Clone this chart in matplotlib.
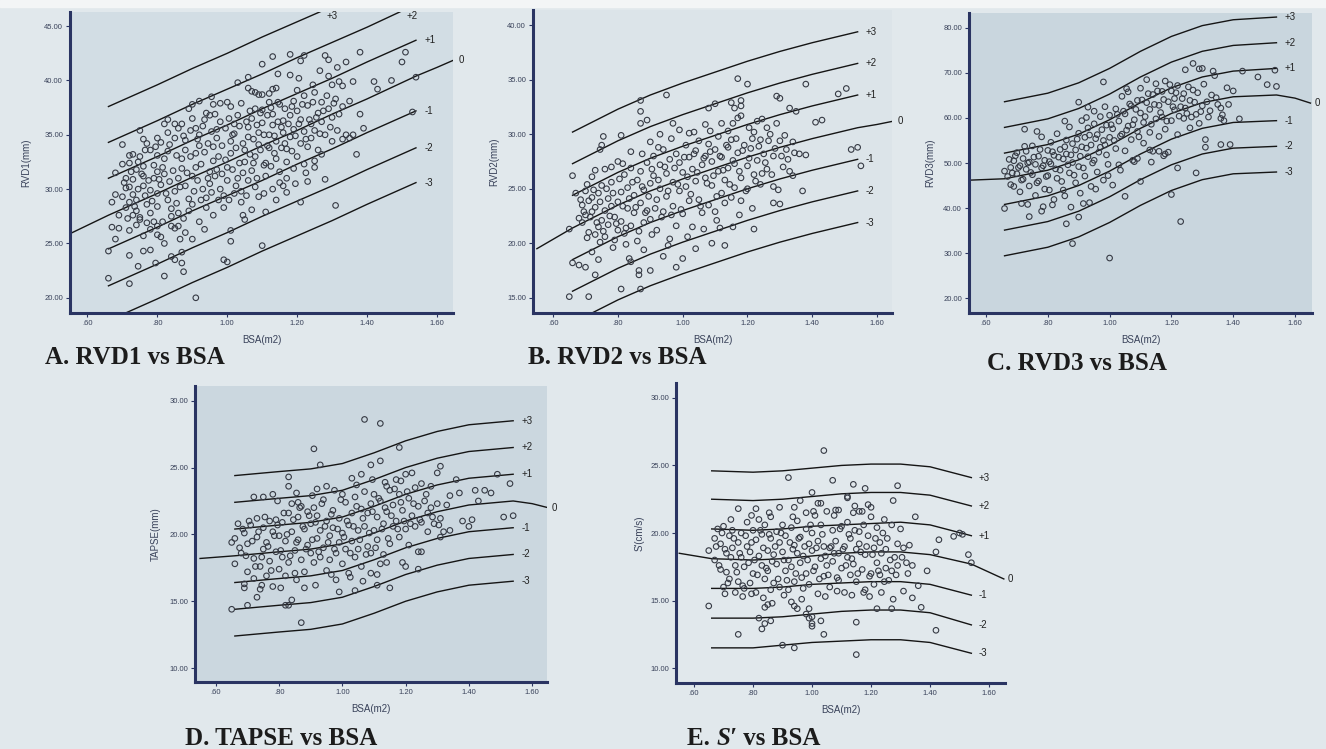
import numpy as np
import matplotlib
matplotlib.use('Agg')
import matplotlib.pyplot as plt
from matplotlib.patches import Rectangle

plt.rcParams['font.family'] = ['Liberation Sans', 'DejaVu Sans']

# ------------------------------------------------------------------
# z-score curves: BSA nodes shared by the +/-1..3 curves and the mean (0)
# ------------------------------------------------------------------
z_nodes = [0.66, 0.80, 0.90, 1.00, 1.10, 1.20, 1.30, 1.40, 1.54]
zero_nodes = [0.55, 0.66, 0.80, 0.90, 1.00, 1.10, 1.20, 1.30, 1.40, 1.54, 1.60, 1.65]
z_names = ['+3', '+2', '+1', '-1', '-2', '-3']

# ---- A. RVD1 ----
rvd1_mean = [25.9, 27.6, 29.6, 31.1, 32.5, 34.0, 35.4, 36.9, 38.3, 40.4, 41.2, 41.9]
rvd1_sd = [
    [37.6, 39.6, 41.1, 42.5, 44.0, 45.4, 46.8, 48.3, 50.3],
    [34.3, 36.3, 37.8, 39.2, 40.6, 42.1, 43.5, 44.9, 47.0],
    [31.0, 33.0, 34.5, 35.9, 37.4, 38.8, 40.2, 41.7, 43.7],
    [24.5, 26.5, 28.0, 29.4, 30.8, 32.3, 33.7, 35.2, 37.2],
    [21.1, 23.1, 24.6, 26.0, 27.5, 28.9, 30.3, 31.8, 33.8],
    [17.9, 19.9, 21.4, 22.8, 24.3, 25.7, 27.1, 28.6, 30.6],
]
rvd1_pts = [
    (0.66, 21.8), (0.72, 21.3), (0.91, 20.0), (0.66, 24.3), (0.68, 25.4), (0.72, 23.9), (0.67, 26.5),
    (0.69, 26.4), (0.69, 27.6), (0.67, 28.8), (0.68, 29.5), (0.68, 31.5), (0.70, 32.3), (0.70, 34.1),
    (0.72, 32.4), (0.72, 33.1), (0.70, 29.3), (0.71, 30.1), (0.72, 28.8), (0.73, 30.9), (0.74, 26.7),
    (0.75, 27.4), (0.76, 25.7), (0.76, 24.3), (0.78, 24.4), (0.75, 35.4), (0.76, 34.6), (0.77, 34.2),
    (0.80, 25.8), (0.81, 25.6), (0.80, 26.6), (0.82, 22.0), (0.84, 23.8), (0.85, 23.5), (0.87, 24.2),
    (0.87, 23.2), (0.875, 22.4), (0.90, 25.4), (0.99, 23.5), (1.00, 23.3), (1.01, 25.2), (1.01, 26.2),
    (1.05, 27.2), (1.10, 24.8), (1.11, 27.9), (1.14, 29.0), (1.15, 30.6), (1.16, 30.3), (1.17, 29.7),
    (1.21, 28.8), (1.23, 30.7), (1.28, 30.9), (1.31, 28.5), (1.37, 33.2), (1.39, 35.6), (1.36, 35.0),
    (1.35, 34.7), (1.33, 34.6), (1.34, 35.0), (1.30, 34.4), (1.27, 33.2), (1.25, 32.0), (1.25, 32.6),
    (1.38, 36.9), (1.35, 38.1), (1.36, 39.9), (1.33, 39.5), (1.32, 39.9), (1.29, 40.4), (1.30, 39.6),
    (1.43, 39.2), (1.42, 39.9), (1.47, 40.0), (1.50, 41.7), (1.51, 42.6), (1.54, 40.3), (1.53, 37.1),
    (1.38, 42.6), (1.34, 41.7), (1.29, 41.9), (1.28, 42.3), (1.22, 42.3), (1.21, 41.8), (1.18, 42.4),
    (1.13, 42.2), (1.10, 41.5), (1.03, 39.8), (1.06, 40.3), (1.18, 40.5), (1.20, 39.1), (1.06, 39.3),
    (1.07, 39.0), (1.08, 38.9), (1.09, 38.7), (1.10, 38.7), (1.12, 38.8), (1.13, 39.2), (1.14, 39.3),
    (0.89, 37.4), (0.90, 37.8), (0.92, 38.1), (0.955, 38.5), (0.96, 37.8), (0.98, 37.9), (1.00, 38.0),
    (1.01, 37.6), (0.83, 36.4), (0.85, 36.0), (0.73, 33.2),
    (0.71, 31.0), (0.72, 30.2), (0.73, 29.5), (0.74, 31.8), (0.745, 32.5), (0.75, 33.0), (0.76, 30.3),
    (0.765, 29.4), (0.77, 28.6), (0.78, 27.8), (0.78, 29.9), (0.79, 31.0), (0.79, 32.2), (0.80, 33.1),
    (0.80, 31.6), (0.76, 32.1), (0.74, 28.0), (0.75, 27.2), (0.73, 27.6), (0.72, 26.2), (0.77, 26.9),
    (0.78, 26.3), (0.79, 27.0), (0.80, 28.4), (0.80, 29.6), (0.81, 30.4), (0.82, 31.4), (0.82, 32.8),
    (0.83, 33.5), (0.83, 29.0), (0.84, 28.2), (0.84, 27.5), (0.85, 26.4), (0.86, 26.6), (0.86, 27.8),
    (0.85, 29.8), (0.86, 31.0), (0.87, 31.9), (0.87, 32.8), (0.88, 33.6), (0.88, 34.5), (0.81, 34.3),
    (0.83, 35.2), (0.85, 34.7), (0.86, 35.6), (0.87, 36.0), (0.88, 30.3), (0.89, 29.1), (0.89, 28.0),
    (0.90, 28.6), (0.90, 31.2), (0.91, 32.0), (0.91, 33.3), (0.92, 34.0), (0.92, 35.0), (0.93, 35.8),
    (0.93, 30.0), (0.94, 29.2), (0.94, 28.3), (0.95, 30.5), (0.95, 31.6), (0.96, 32.6), (0.96, 33.9),
    (0.97, 34.7), (0.97, 35.5), (0.98, 36.2), (0.98, 30.0), (0.99, 29.4), (0.99, 28.3), (1.00, 30.8),
    (1.00, 32.0), (1.01, 33.3), (1.01, 34.4), (1.02, 35.1), (1.02, 36.0), (1.03, 36.8), (1.03, 31.0),
    (1.04, 29.8), (1.04, 28.8), (1.05, 32.5), (1.05, 33.6), (1.06, 34.8), (1.06, 35.7), (1.07, 36.5),
    (1.07, 31.7), (1.08, 30.2), (1.08, 33.0), (1.09, 34.1), (1.09, 35.2), (1.10, 36.1), (1.10, 37.3),
    (1.11, 32.4), (1.11, 31.2), (1.12, 33.8), (1.12, 35.0), (1.13, 35.9), (1.13, 36.9), (1.14, 34.4),
    (1.14, 32.8), (1.15, 31.6), (1.15, 37.8), (1.16, 36.3), (1.16, 35.2), (1.17, 33.7), (1.17, 32.5),
    (1.18, 34.8), (1.18, 36.8), (1.19, 38.1), (1.19, 35.5), (1.20, 33.0), (1.20, 37.2), (1.21, 34.2),
    (1.21, 36.4), (1.22, 38.6), (1.22, 35.3), (1.23, 33.9), (1.23, 37.7), (1.24, 36.0), (1.24, 34.7),
    (1.25, 38.9), (1.25, 35.4), (1.26, 37.0), (1.26, 33.6), (1.27, 36.2), (1.27, 38.0), (1.28, 35.0),
    (1.29, 37.4), (1.30, 36.6), (1.31, 38.3), (1.32, 36.9), (1.33, 37.6), (1.12, 38.0), (1.08, 37.4),
    (1.04, 37.9), (0.95, 36.8), (0.94, 37.0), (0.90, 36.5), (0.91, 35.6), (0.97, 31.8), (1.02, 29.6),
    (1.06, 30.8), (1.09, 29.3), (1.13, 30.0), (1.17, 31.0), (1.19, 31.9), (1.22, 32.3), (1.07, 28.1),
    (0.96, 27.6), (0.92, 27.0), (0.88, 26.0), (0.82, 25.0), (0.84, 26.6), (0.71, 28.3), (0.74, 29.0),
    (0.76, 31.2), (0.78, 33.6), (0.80, 34.7), (0.82, 36.0),
    (0.705, 30.6), (0.715, 27.3), (0.725, 31.6), (0.735, 28.4), (0.745, 30.0), (0.755, 31.4),
    (0.765, 33.6), (0.775, 30.8), (0.785, 28.9), (0.795, 33.9), (0.805, 30.9), (0.815, 32.0),
    (0.815, 27.0), (0.825, 29.6), (0.835, 30.7), (0.835, 34.1), (0.845, 31.7), (0.855, 33.1),
    (0.855, 28.7), (0.865, 30.2), (0.875, 34.9), (0.875, 27.3), (0.885, 31.5), (0.895, 33.0),
    (0.895, 35.4), (0.905, 29.8), (0.915, 30.8), (0.915, 34.6), (0.925, 32.3), (0.925, 29.0),
    (0.935, 33.4), (0.935, 36.4), (0.945, 31.0), (0.945, 34.2), (0.955, 29.7), (0.955, 35.3),
    (0.965, 31.2), (0.965, 36.9), (0.975, 33.0), (0.975, 29.0), (0.985, 34.0), (0.985, 31.4),
    (0.995, 35.6), (0.995, 32.7), (1.005, 29.0), (1.005, 36.5), (1.015, 31.8), (1.015, 35.0),
    (1.025, 33.8), (1.025, 30.3), (1.035, 32.4), (1.035, 35.8), (1.045, 34.2), (1.045, 31.5),
    (1.055, 36.2), (1.055, 29.4), (1.065, 33.2), (1.065, 37.2), (1.075, 34.6), (1.075, 32.4),
    (1.085, 35.9), (1.085, 31.0), (1.095, 33.6), (1.095, 37.0), (1.105, 35.0), (1.105, 32.2),
    (1.115, 36.8), (1.115, 34.0), (1.125, 32.1), (1.125, 37.5), (1.135, 34.9), (1.135, 33.3),
    (1.145, 36.2), (1.145, 38.0), (1.155, 33.8), (1.155, 35.7), (1.165, 37.4), (1.165, 34.2),
    (1.175, 36.0), (1.185, 33.5), (1.185, 37.6), (1.195, 34.9), (1.205, 36.0), (1.215, 37.8),
    (1.225, 34.6), (1.235, 36.4), (1.245, 38.0), (1.255, 36.6), (1.265, 35.1), (1.275, 37.2),
    (1.285, 38.6), (1.295, 35.7), (1.305, 37.9), (1.315, 35.4), (1.205, 40.2), (1.145, 40.6),
    (1.245, 39.6), (1.265, 40.9), (1.315, 41.2), (1.225, 31.5), (1.195, 30.5), (1.105, 29.6),
    (1.045, 27.6), (0.935, 26.3), (0.865, 25.4), (0.795, 23.2), (0.745, 22.9),
]

# ---- B. RVD2 ----
rvd2_mean = [19.5, 21.4, 23.5, 24.8, 25.9, 26.9, 27.9, 28.8, 29.6, 30.6, 30.9, 31.2]
rvd2_sd = [
    [30.2, 32.3, 33.6, 34.7, 35.7, 36.7, 37.6, 38.4, 39.4],
    [27.3, 29.4, 30.7, 31.8, 32.8, 33.8, 34.7, 35.5, 36.5],
    [24.4, 26.5, 27.8, 28.9, 29.9, 30.9, 31.8, 32.6, 33.6],
    [18.5, 20.6, 21.9, 23.0, 24.0, 25.0, 25.9, 26.7, 27.7],
    [15.6, 17.7, 19.0, 20.1, 21.1, 22.1, 23.0, 23.8, 24.8],
    [12.7, 14.8, 16.1, 17.2, 18.2, 19.2, 20.1, 20.9, 21.9],
]
rvd2_pts = [
    (0.65, 15.1), (0.71, 15.1), (0.66, 18.2), (0.68, 18.0), (0.70, 17.8), (0.73, 17.1), (0.72, 19.2),
    (0.74, 18.5), (0.81, 15.8), (0.87, 15.8), (0.835, 18.6), (0.84, 18.3), (0.865, 17.5), (0.865, 17.1),
    (0.90, 17.5), (0.88, 19.4), (0.94, 18.8), (0.98, 17.8), (1.00, 18.6), (1.04, 19.5), (1.09, 20.0),
    (1.13, 19.8), (1.155, 21.5), (1.22, 21.3), (1.105, 22.1), (0.65, 21.3), (0.66, 26.2), (0.73, 26.7),
    (0.755, 29.8), (0.75, 29.0), (0.745, 28.6), (0.81, 29.9), (0.87, 33.1), (0.87, 32.1), (0.89, 31.3),
    (0.87, 31.0), (0.95, 33.6), (0.97, 31.0), (1.17, 35.1), (1.20, 34.6), (1.15, 32.9), (1.16, 32.4),
    (1.18, 32.6), (1.18, 31.7), (1.17, 31.5), (1.18, 33.1), (1.29, 33.5), (1.30, 33.3), (1.33, 32.4),
    (1.35, 32.1), (1.38, 34.6), (1.41, 31.1), (1.43, 31.3), (1.48, 33.7), (1.505, 34.2), (1.52, 28.6),
    (1.54, 28.8), (1.55, 27.1), (1.36, 28.2), (1.38, 28.1), (1.37, 24.8), (1.34, 26.2), (1.28, 23.7),
    (1.30, 23.6), (1.07, 30.9), (1.08, 32.4), (1.10, 32.8),
    (0.67, 24.6), (0.68, 22.3), (0.69, 23.5), (0.69, 21.9), (0.70, 24.8), (0.70, 22.6), (0.71, 23.9),
    (0.71, 21.0), (0.72, 24.2), (0.72, 22.9), (0.73, 23.3), (0.73, 20.8), (0.74, 21.5), (0.74, 24.6),
    (0.75, 25.3), (0.75, 22.1), (0.76, 23.0), (0.76, 20.6), (0.77, 21.7), (0.77, 24.1), (0.78, 23.4),
    (0.78, 25.6), (0.79, 22.4), (0.79, 20.3), (0.80, 21.2), (0.80, 23.8), (0.81, 24.7), (0.81, 22.0),
    (0.82, 26.3), (0.82, 20.9), (0.83, 23.2), (0.83, 25.1), (0.84, 21.6), (0.84, 26.9), (0.85, 24.4),
    (0.85, 22.8), (0.86, 25.8), (0.86, 20.2), (0.87, 23.7), (0.87, 26.6), (0.88, 24.9), (0.88, 21.9),
    (0.89, 27.4), (0.89, 23.0), (0.90, 25.5), (0.90, 22.2), (0.91, 26.2), (0.91, 28.0), (0.92, 24.0),
    (0.92, 21.2), (0.93, 27.2), (0.93, 25.0), (0.94, 22.9), (0.94, 28.6), (0.95, 26.4), (0.95, 24.3),
    (0.96, 20.4), (0.96, 27.7), (0.97, 25.6), (0.97, 23.4), (0.98, 28.2), (0.98, 21.6), (0.99, 27.4),
    (0.99, 24.8), (1.00, 26.5), (1.00, 22.7), (1.01, 29.0), (1.01, 25.2), (1.02, 27.9), (1.02, 23.9),
    (1.03, 26.8), (1.03, 21.5), (1.04, 28.5), (1.04, 25.7), (1.05, 29.4), (1.05, 24.0), (1.06, 27.2),
    (1.06, 22.8), (1.07, 28.0), (1.07, 26.0), (1.08, 29.1), (1.08, 23.5), (1.09, 27.5), (1.09, 25.3),
    (1.10, 28.6), (1.10, 22.9), (1.11, 26.6), (1.11, 29.8), (1.12, 24.6), (1.12, 27.9), (1.13, 25.8),
    (1.13, 23.7), (1.14, 28.8), (1.14, 26.9), (1.15, 24.2), (1.15, 29.5), (1.16, 27.3), (1.16, 25.1),
    (1.17, 28.3), (1.18, 26.0), (1.18, 23.9), (1.19, 29.0), (1.20, 27.1), (1.20, 25.0), (1.21, 28.7),
    (1.22, 26.3), (1.22, 30.2), (1.23, 27.6), (1.24, 25.4), (1.24, 29.5), (1.25, 28.2), (1.26, 26.8),
    (1.27, 30.0), (1.28, 28.0), (1.28, 25.2), (1.30, 29.4), (1.31, 27.0), (1.32, 28.6), (1.33, 26.6),
    (1.34, 29.3), (1.29, 31.0), (1.26, 30.6), (1.23, 31.2), (1.14, 30.3), (1.12, 31.0), (1.02, 30.1),
    (0.99, 30.4), (0.93, 30.0), (0.90, 29.3), (0.84, 28.4), (0.80, 27.5), (0.78, 27.0), (0.76, 26.8),
    (0.72, 26.1),
    (0.685, 24.0), (0.695, 22.9), (0.705, 25.4), (0.715, 22.4), (0.725, 24.9), (0.735, 21.9),
    (0.745, 23.8), (0.755, 21.1), (0.765, 25.0), (0.775, 22.5), (0.785, 24.6), (0.795, 21.8),
    (0.805, 25.9), (0.815, 23.4), (0.825, 21.4), (0.835, 24.1), (0.845, 25.6), (0.855, 23.3),
    (0.865, 21.1), (0.875, 25.2), (0.885, 22.8), (0.895, 24.3), (0.905, 26.8), (0.915, 23.2),
    (0.925, 25.8), (0.935, 22.4), (0.945, 27.0), (0.955, 24.8), (0.965, 22.6), (0.975, 26.9),
    (0.985, 25.4), (0.995, 23.1), (1.005, 27.9), (1.015, 26.1), (1.025, 24.5), (1.035, 28.2),
    (1.045, 26.5), (1.055, 23.4), (1.065, 27.8), (1.075, 25.5), (1.085, 28.4), (1.095, 26.2),
    (1.105, 24.3), (1.115, 28.0), (1.125, 26.7), (1.135, 29.0), (1.145, 25.4), (1.155, 27.6),
    (1.165, 29.6), (1.175, 26.6), (1.185, 28.5), (1.195, 24.8), (1.205, 27.8), (1.215, 29.6),
    (1.225, 25.7), (1.235, 28.9), (1.245, 26.4), (1.255, 27.4), (1.265, 29.4), (1.275, 26.3),
    (1.285, 28.7), (1.295, 24.9), (1.305, 28.0), (1.315, 29.9), (1.325, 27.7), (1.345, 28.3),
    (0.705, 20.5), (0.745, 20.1), (0.785, 19.6), (0.825, 19.9), (0.905, 20.8), (0.955, 19.8),
    (1.015, 20.6), (1.065, 21.3), (1.115, 21.4), (1.175, 22.6), (1.215, 23.2), (0.815, 27.3),
    (0.875, 28.2), (0.925, 28.8), (0.965, 29.6), (1.035, 30.2), (1.085, 30.3), (1.155, 31.0),
    (1.205, 30.6), (1.245, 31.4),
]

# ---- C. RVD3 ----
rvd3_mean = [46.2, 46.5, 48.4, 50.7, 53.9, 57.7, 61.0, 63.4, 64.7, 65.1, 64.4, 63.3]
rvd3_sd = [
    [63.6, 65.5, 67.8, 71.0, 74.8, 78.1, 80.5, 81.8, 82.4],
    [57.9, 59.8, 62.1, 65.3, 69.1, 72.4, 74.8, 76.1, 76.7],
    [52.2, 54.1, 56.4, 59.6, 63.4, 66.7, 69.1, 70.4, 71.0],
    [40.8, 42.7, 45.0, 48.2, 52.0, 55.3, 57.7, 59.0, 59.4],
    [35.1, 37.0, 39.3, 42.5, 46.3, 49.6, 52.0, 53.3, 53.7],
    [29.4, 31.3, 33.6, 36.8, 40.6, 43.9, 46.3, 47.6, 48.0],
]
rvd3_pts = [
    (1.00, 28.9), (0.88, 32.1), (0.86, 36.5), (0.90, 38.0), (1.23, 37.0), (1.20, 43.0), (0.74, 38.1),
    (0.78, 39.3), (0.66, 39.9), (0.68, 45.2), (0.715, 41.0), (0.735, 40.8), (1.05, 42.6), (1.10, 45.9),
    (1.28, 47.8), (1.22, 48.9), (1.36, 54.1), (1.39, 54.1), (1.31, 55.2), (1.31, 53.5), (1.36, 59.9),
    (1.42, 59.8), (1.535, 70.6), (1.48, 69.1), (1.51, 67.4), (1.54, 67.0), (1.43, 70.4), (1.38, 66.7),
    (1.36, 62.2), (1.335, 70.4), (1.34, 69.4), (1.27, 72.1), (1.245, 70.7), (1.29, 70.9), (1.30, 71.0),
    (0.98, 68.0), (0.90, 63.5), (0.93, 62.4), (0.95, 61.5),
    (0.66, 48.2), (0.67, 47.0), (0.68, 49.0), (0.69, 50.5), (0.69, 44.8), (0.70, 47.6), (0.70, 52.3),
    (0.71, 49.4), (0.71, 43.6), (0.72, 51.0), (0.72, 46.4), (0.73, 48.6), (0.73, 52.6), (0.74, 50.2),
    (0.74, 44.9), (0.75, 47.4), (0.75, 53.8), (0.76, 49.7), (0.76, 42.8), (0.77, 51.5), (0.77, 46.0),
    (0.78, 48.9), (0.78, 55.8), (0.79, 50.6), (0.79, 44.2), (0.80, 52.8), (0.80, 47.2), (0.81, 54.6),
    (0.81, 49.8), (0.82, 41.9), (0.82, 51.7), (0.83, 46.6), (0.83, 56.5), (0.84, 53.0), (0.84, 48.4),
    (0.85, 50.9), (0.85, 44.0), (0.86, 55.1), (0.86, 52.0), (0.87, 47.8), (0.87, 58.0), (0.88, 50.1),
    (0.88, 54.3), (0.89, 45.6), (0.89, 52.9), (0.90, 56.6), (0.90, 49.2), (0.91, 59.4), (0.91, 53.6),
    (0.92, 47.1), (0.92, 55.7), (0.93, 51.4), (0.93, 57.8), (0.94, 44.8), (0.94, 54.0), (0.95, 58.7),
    (0.95, 50.6), (0.96, 56.3), (0.96, 48.0), (0.97, 60.3), (0.97, 53.5), (0.98, 55.0), (0.98, 46.2),
    (0.99, 58.4), (0.99, 51.8), (1.00, 60.6), (1.00, 55.7), (1.01, 45.1), (1.01, 57.6), (1.02, 53.2),
    (1.02, 62.0), (1.03, 59.3), (1.03, 49.6), (1.04, 56.4), (1.04, 64.8), (1.05, 60.9), (1.05, 52.7),
    (1.06, 58.2), (1.06, 65.8), (1.07, 55.2), (1.07, 62.7), (1.08, 59.6), (1.08, 50.3), (1.09, 63.9),
    (1.09, 57.0), (1.10, 61.1), (1.10, 66.6), (1.11, 54.4), (1.11, 59.0), (1.12, 63.4), (1.12, 68.5),
    (1.13, 56.8), (1.13, 61.9), (1.14, 65.2), (1.14, 52.6), (1.15, 59.8), (1.15, 67.6), (1.16, 62.8),
    (1.16, 55.9), (1.17, 65.9), (1.17, 60.2), (1.18, 68.2), (1.18, 57.5), (1.19, 63.6), (1.19, 52.4),
    (1.20, 66.0), (1.20, 59.4), (1.21, 61.8), (1.21, 64.3), (1.22, 56.3), (1.22, 67.2), (1.23, 62.5),
    (1.24, 59.9), (1.24, 65.4), (1.25, 61.0), (1.26, 57.8), (1.26, 63.9), (1.27, 66.2), (1.28, 60.8),
    (1.29, 58.8), (1.30, 62.7), (1.32, 60.2), (1.33, 65.1), (1.35, 63.0), (1.37, 59.4), (1.40, 66.0),
    (1.18, 52.0), (1.16, 52.6), (1.13, 52.9), (1.09, 51.0),
    (0.675, 50.8), (0.685, 47.8), (0.695, 51.6), (0.705, 49.0), (0.715, 46.2), (0.725, 53.7),
    (0.735, 50.0), (0.745, 47.9), (0.755, 51.3), (0.765, 45.6), (0.775, 53.0), (0.785, 49.4),
    (0.795, 47.0), (0.805, 50.3), (0.815, 52.5), (0.825, 48.7), (0.835, 51.3), (0.845, 45.9),
    (0.855, 53.6), (0.865, 49.6), (0.875, 51.8), (0.885, 47.3), (0.895, 55.3), (0.905, 51.5),
    (0.915, 48.9), (0.925, 53.3), (0.935, 56.2), (0.945, 50.0), (0.955, 55.4), (0.965, 52.4),
    (0.975, 57.4), (0.985, 54.0), (0.995, 49.7), (1.005, 58.5), (1.015, 55.0), (1.025, 60.8),
    (1.035, 56.0), (1.045, 61.5), (1.055, 57.3), (1.065, 63.1), (1.075, 58.5), (1.085, 61.9),
    (1.095, 55.8), (1.105, 64.0), (1.115, 60.3), (1.125, 65.4), (1.135, 58.6), (1.145, 63.0),
    (1.155, 66.0), (1.165, 61.2), (1.175, 64.1), (1.185, 59.3), (1.195, 67.4), (1.205, 62.5),
    (1.215, 65.6), (1.225, 60.4), (1.235, 64.3), (1.245, 62.2), (1.255, 66.9), (1.265, 60.2),
    (1.275, 63.5), (1.285, 65.6), (1.295, 61.4), (1.305, 67.5), (1.315, 63.6), (1.325, 61.6),
    (1.345, 64.5), (1.365, 60.7), (1.385, 63.0), (0.805, 44.0), (0.855, 42.7), (0.905, 43.3),
    (0.935, 41.2), (0.955, 44.2), (0.995, 47.2), (1.035, 48.4), (1.075, 50.6), (1.135, 50.2),
    (1.175, 51.6), (0.785, 40.3), (0.815, 40.7), (0.875, 40.2), (0.915, 41.0), (0.725, 57.5),
    (0.765, 57.0), (0.855, 59.3), (0.925, 60.1), (0.985, 62.5), (1.055, 66.5),
]

# ---- D. TAPSE ----
tapse_mean = [18.2, 18.4, 18.7, 18.9, 19.3, 20.1, 21.0, 21.7, 22.2, 22.5, 22.3, 22.0]
tapse_sd = [
    [24.4, 24.7, 24.9, 25.3, 26.1, 27.0, 27.7, 28.2, 28.5],
    [22.4, 22.7, 22.9, 23.3, 24.1, 25.0, 25.7, 26.2, 26.5],
    [20.4, 20.7, 20.9, 21.3, 22.1, 23.0, 23.7, 24.2, 24.5],
    [16.4, 16.7, 16.9, 17.3, 18.1, 19.0, 19.7, 20.2, 20.5],
    [14.4, 14.7, 14.9, 15.3, 16.1, 17.0, 17.7, 18.2, 18.5],
    [12.4, 12.7, 12.9, 13.3, 14.1, 15.0, 15.7, 16.2, 16.5],
]
tapse_pts = [
    (1.07, 28.6), (1.12, 28.3), (0.91, 26.4), (1.18, 26.5), (0.93, 25.2), (1.09, 25.2), (1.12, 25.5),
    (1.31, 25.1), (1.30, 24.6), (1.49, 24.5), (0.83, 24.3), (0.83, 23.6), (0.65, 19.4), (0.66, 19.7),
    (0.66, 17.8), (0.65, 14.4), (0.70, 14.7), (0.82, 14.7), (0.83, 14.7), (0.84, 15.1), (0.87, 13.4),
    (0.88, 16.0), (0.99, 15.7), (1.04, 15.8), (1.11, 16.2), (1.15, 16.0), (1.09, 17.1), (1.11, 17.0),
    (1.14, 17.9), (1.12, 17.8), (1.19, 17.9), (1.20, 17.6), (1.24, 17.4), (1.24, 18.7), (1.25, 18.7),
    (1.51, 21.3), (1.54, 21.4), (1.53, 23.8), (1.47, 23.1), (1.38, 21.0), (1.40, 20.6), (1.41, 21.1),
    (1.42, 23.3), (1.37, 23.1), (1.36, 24.1), (0.69, 16.0), (0.69, 16.3), (0.73, 15.3), (0.74, 15.9),
    (0.72, 22.8), (0.75, 22.8), (0.78, 23.0), (0.86, 22.4), (0.92, 23.4), (0.95, 23.6), (1.00, 23.0),
    (1.03, 24.2), (1.06, 24.5), (1.14, 23.6), (1.17, 24.1), (1.20, 24.5), (1.22, 24.6), (1.25, 23.8),
    (1.28, 23.6), (1.33, 22.2), (1.34, 22.9), (1.32, 20.2), (1.31, 19.8), (1.34, 20.3), (1.43, 22.5),
    (1.45, 23.3),
    (0.67, 20.8), (0.68, 18.6), (0.69, 20.1), (0.70, 19.3), (0.70, 17.2), (0.71, 20.7), (0.72, 18.2),
    (0.72, 16.7), (0.73, 19.8), (0.73, 21.2), (0.74, 17.6), (0.75, 18.9), (0.75, 20.5), (0.76, 16.9),
    (0.76, 19.4), (0.77, 21.0), (0.77, 18.0), (0.78, 20.2), (0.78, 16.1), (0.79, 18.7), (0.79, 21.1),
    (0.80, 17.4), (0.80, 19.9), (0.81, 20.9), (0.81, 18.3), (0.82, 16.9), (0.82, 19.5), (0.83, 21.6),
    (0.83, 17.9), (0.84, 20.2), (0.84, 22.3), (0.85, 18.8), (0.85, 17.1), (0.86, 21.3), (0.86, 19.6),
    (0.87, 18.1), (0.87, 22.1), (0.88, 20.4), (0.88, 17.2), (0.89, 19.2), (0.89, 21.7), (0.90, 18.6),
    (0.90, 20.8), (0.91, 17.9), (0.91, 22.0), (0.92, 19.7), (0.92, 21.4), (0.93, 18.3), (0.93, 20.3),
    (0.94, 22.6), (0.94, 19.0), (0.95, 17.3), (0.95, 21.0), (0.96, 19.9), (0.96, 18.1), (0.97, 21.8),
    (0.97, 20.5), (0.98, 18.6), (0.98, 16.6), (0.99, 21.2), (0.99, 19.4), (1.00, 20.1), (1.00, 17.8),
    (1.01, 22.4), (1.01, 18.9), (1.02, 20.7), (1.02, 17.1), (1.03, 21.6), (1.03, 19.5), (1.04, 18.3),
    (1.04, 22.8), (1.05, 20.3), (1.05, 18.9), (1.06, 21.9), (1.06, 17.6), (1.07, 20.6), (1.07, 23.2),
    (1.08, 19.1), (1.08, 21.6), (1.09, 18.6), (1.09, 22.3), (1.10, 20.3), (1.10, 23.0), (1.11, 21.3),
    (1.11, 19.6), (1.12, 22.5), (1.13, 20.8), (1.13, 18.5), (1.14, 21.7), (1.15, 23.3), (1.15, 19.3),
    (1.16, 20.6), (1.16, 22.2), (1.17, 21.0), (1.18, 23.0), (1.18, 19.8), (1.19, 21.8), (1.20, 20.4),
    (1.21, 22.7), (1.21, 19.2), (1.22, 21.4), (1.23, 23.5), (1.23, 20.6), (1.24, 22.1), (1.25, 20.9),
    (1.26, 22.5), (1.27, 21.6), (1.27, 20.2), (1.28, 22.0), (1.29, 20.8), (1.30, 22.3), (1.31, 21.2),
    (0.675, 19.0), (0.685, 20.4), (0.695, 18.4), (0.705, 21.0), (0.715, 19.5), (0.725, 17.6),
    (0.735, 20.2), (0.745, 18.3), (0.755, 21.3), (0.765, 19.1), (0.775, 17.3), (0.785, 19.9),
    (0.795, 20.7), (0.805, 18.8), (0.815, 21.6), (0.825, 20.0), (0.835, 18.4), (0.845, 21.1),
    (0.855, 19.4), (0.865, 22.0), (0.875, 20.6), (0.885, 18.9), (0.895, 21.4), (0.905, 19.6),
    (0.915, 20.9), (0.925, 18.7), (0.935, 22.3), (0.945, 20.6), (0.955, 19.4), (0.965, 21.5),
    (0.975, 18.9), (0.985, 20.4), (0.995, 22.6), (1.005, 19.8), (1.015, 21.0), (1.025, 18.6),
    (1.035, 20.6), (1.045, 22.1), (1.055, 19.6), (1.065, 21.2), (1.075, 18.5), (1.085, 20.1),
    (1.095, 21.7), (1.105, 19.0), (1.115, 22.7), (1.125, 20.4), (1.135, 22.0), (1.145, 19.7),
    (1.155, 21.4), (1.165, 23.4), (1.175, 20.4), (1.185, 22.4), (1.195, 21.0), (1.205, 23.2),
    (1.215, 20.8), (1.225, 22.3), (1.245, 21.1), (1.265, 23.0), (1.285, 21.3), (1.305, 20.7),
    (0.745, 16.2), (0.805, 16.0), (0.855, 16.6), (0.915, 16.2), (0.965, 17.0), (1.025, 16.8),
    (1.065, 16.5), (0.795, 22.5), (0.855, 23.1), (0.905, 22.9), (0.975, 23.3), (1.045, 23.7),
    (1.095, 24.1), (1.135, 23.9), (1.185, 24.0),
]

# ---- E. S' ----
s_mean = [18.5, 18.1, 18.0, 18.1, 18.3, 18.5, 18.6, 18.6, 18.4, 17.7, 17.1, 16.6]
s_sd = [
    [24.6, 24.5, 24.6, 24.8, 25.0, 25.1, 25.1, 24.9, 24.1],
    [22.5, 22.4, 22.5, 22.7, 22.9, 23.0, 23.0, 22.8, 22.0],
    [20.3, 20.2, 20.3, 20.5, 20.6, 20.7, 20.8, 20.6, 19.8],
    [15.9, 15.9, 16.0, 16.2, 16.3, 16.4, 16.4, 16.2, 15.4],
    [13.7, 13.7, 13.8, 14.0, 14.2, 14.3, 14.3, 14.1, 13.2],
    [11.5, 11.5, 11.7, 11.9, 12.0, 12.1, 12.1, 11.9, 11.1],
]
s_pts = [
    (1.04, 26.1), (0.92, 24.1), (1.07, 23.9), (1.14, 23.6), (1.12, 22.7), (1.18, 23.3), (1.29, 23.5),
    (1.275, 22.4), (1.00, 23.0), (1.02, 22.2), (1.03, 22.2), (0.75, 21.8), (0.81, 21.8), (0.89, 21.9),
    (1.35, 21.2), (1.43, 19.5), (1.48, 19.75), (1.50, 20.0), (1.51, 19.9), (1.53, 18.4), (1.54, 17.8),
    (1.42, 18.6), (1.39, 17.2), (1.37, 14.5), (1.42, 12.8), (1.15, 11.0), (1.04, 12.5), (0.94, 11.5),
    (0.90, 11.7), (0.75, 12.5), (0.65, 14.6), (0.65, 18.7), (0.82, 13.7), (0.84, 13.3), (0.83, 12.9),
    (0.86, 13.5), (1.00, 13.3), (1.00, 13.1), (1.03, 13.5), (0.99, 13.7), (1.00, 13.8), (0.98, 14.0),
    (0.99, 14.4), (0.93, 14.9), (0.94, 14.6), (0.95, 14.4), (1.15, 13.4), (1.22, 14.4), (1.27, 14.4),
    (1.275, 15.1), (1.34, 15.2), (1.31, 15.7), (1.36, 16.1), (0.835, 15.2), (0.86, 15.8), (0.84, 14.5),
    (0.85, 14.7),
    (0.67, 19.6), (0.67, 18.0), (0.68, 20.3), (0.69, 17.3), (0.69, 19.2), (0.70, 16.0), (0.70, 20.5),
    (0.71, 18.5), (0.71, 17.1), (0.72, 19.8), (0.72, 16.6), (0.73, 18.9), (0.73, 20.2), (0.74, 17.6),
    (0.74, 15.6), (0.75, 19.3), (0.75, 16.4), (0.76, 20.0), (0.76, 18.2), (0.77, 15.9), (0.77, 17.5),
    (0.78, 20.8), (0.78, 19.0), (0.79, 16.3), (0.79, 18.6), (0.80, 20.2), (0.80, 17.0), (0.81, 19.5),
    (0.81, 15.6), (0.82, 18.3), (0.82, 21.0), (0.83, 17.6), (0.83, 19.9), (0.84, 16.6), (0.84, 20.6),
    (0.85, 18.7), (0.85, 17.2), (0.86, 19.6), (0.86, 21.2), (0.87, 16.3), (0.87, 18.4), (0.88, 20.1),
    (0.88, 17.7), (0.89, 19.3), (0.89, 16.0), (0.90, 18.6), (0.90, 20.6), (0.91, 17.2), (0.91, 19.8),
    (0.92, 18.0), (0.92, 15.8), (0.93, 20.4), (0.93, 17.5), (0.94, 19.1), (0.94, 16.4), (0.95, 18.5),
    (0.95, 20.9), (0.96, 17.8), (0.96, 19.7), (0.97, 15.9), (0.97, 18.3), (0.98, 20.3), (0.98, 17.0),
    (0.99, 19.2), (0.99, 16.2), (1.00, 18.7), (1.00, 20.0), (1.01, 17.5), (1.01, 21.3), (1.02, 19.4),
    (1.02, 15.5), (1.03, 18.1), (1.03, 20.6), (1.04, 16.8), (1.04, 19.0), (1.05, 17.6), (1.05, 21.6),
    (1.06, 18.9), (1.06, 16.0), (1.07, 20.2), (1.07, 17.9), (1.08, 19.4), (1.08, 21.7), (1.09, 16.5),
    (1.09, 18.5), (1.10, 20.5), (1.10, 17.4), (1.11, 19.0), (1.11, 15.6), (1.12, 18.2), (1.12, 20.8),
    (1.13, 16.9), (1.13, 19.6), (1.14, 21.5), (1.14, 17.7), (1.15, 18.8), (1.15, 16.4), (1.16, 20.1),
    (1.16, 19.2), (1.17, 17.3), (1.17, 21.6), (1.18, 18.4), (1.18, 15.8), (1.19, 19.8), (1.20, 17.0),
    (1.20, 21.9), (1.21, 18.9), (1.21, 16.2), (1.22, 20.4), (1.22, 17.8), (1.23, 19.3), (1.23, 16.9),
    (1.24, 20.0), (1.25, 17.4), (1.25, 18.8), (1.26, 16.5), (1.27, 20.6), (1.27, 17.2), (1.28, 18.2),
    (1.29, 19.2), (1.29, 17.6), (1.30, 20.3), (1.31, 18.9), (1.32, 17.8), (1.33, 19.1), (1.34, 17.6),
    (1.12, 22.6), (1.09, 21.7), (0.98, 21.5), (0.94, 21.9), (0.96, 22.4), (1.16, 21.6), (1.19, 22.1),
    (1.20, 21.2),
    (0.675, 19.0), (0.685, 17.6), (0.695, 20.0), (0.705, 18.8), (0.715, 16.3), (0.725, 18.2),
    (0.735, 19.6), (0.745, 17.1), (0.755, 18.5), (0.765, 16.1), (0.775, 19.8), (0.785, 17.8),
    (0.795, 19.3), (0.805, 18.0), (0.815, 16.9), (0.825, 20.2), (0.835, 18.9), (0.845, 17.4),
    (0.855, 19.9), (0.865, 17.9), (0.875, 19.0), (0.885, 16.6), (0.895, 20.0), (0.905, 18.0),
    (0.915, 16.5), (0.925, 19.3), (0.935, 18.8), (0.945, 17.0), (0.955, 19.6), (0.965, 16.7),
    (0.975, 19.0), (0.985, 18.0), (0.995, 20.6), (1.005, 17.2), (1.015, 18.9), (1.025, 16.6),
    (1.035, 19.9), (1.045, 18.3), (1.055, 16.9), (1.065, 19.0), (1.075, 18.5), (1.085, 16.7),
    (1.095, 20.3), (1.105, 18.8), (1.115, 17.6), (1.125, 19.9), (1.135, 18.1), (1.145, 20.2),
    (1.155, 17.0), (1.165, 18.6), (1.175, 20.6), (1.185, 19.0), (1.195, 16.8), (1.205, 18.4),
    (1.215, 19.6), (1.225, 17.2), (1.235, 18.5), (1.245, 16.4), (1.255, 19.6), (1.265, 18.0),
    (1.285, 16.9), (1.305, 18.2), (1.325, 17.0), (0.705, 15.5), (0.765, 15.3), (0.795, 15.5),
    (0.865, 14.8), (0.905, 15.4), (0.965, 15.1), (1.045, 15.3), (1.085, 15.7), (1.135, 15.4),
    (1.175, 15.6), (1.195, 15.3), (1.235, 15.6), (0.725, 21.0), (0.795, 21.3), (0.855, 21.5),
    (0.935, 21.2), (1.005, 21.6), (1.075, 21.3), (1.145, 22.0), (1.245, 21.0),
]

bsa_ticks = [0.60, 0.80, 1.00, 1.20, 1.40, 1.60]

# ------------------------------------------------------------------
# layout (pixels of the 1326x749 canvas)
# ------------------------------------------------------------------
W, H = 1326, 749
fig = plt.figure(figsize=(W / 100, H / 100), dpi=100)
fig.patch.set_facecolor('#e1e8ec')
fig.patches.append(Rectangle((0, 1 - 7 / H), 1, 7 / H, transform=fig.transFigure,
                             color='#f3f5f6', zorder=0))

AXIS_COL = '#2a3462'
TICK_COL = '#39425a'


def px_rect(x0, y0, x1, y1):
    return [x0 / W, 1 - y1 / H, (x1 - x0) / W, (y1 - y0) / H]


def draw_panel(box, face, pts, mean, sds, xlim, ylim, ystep, ylabel, ylab_pad):
    ax = fig.add_axes(px_rect(*box))
    ax.set_facecolor(face)
    for s in ['top', 'right']:
        ax.spines[s].set_visible(False)
    for s in ['left', 'bottom']:
        ax.spines[s].set_color(AXIS_COL)
        ax.spines[s].set_linewidth(2.2)

    x, y = np.array(pts).T
    ax.scatter(x, y, s=16, facecolors='none', edgecolors='#363a44', linewidths=0.8, zorder=3)

    # z-score curves
    ax.plot(zero_nodes, mean, color='#151515', lw=1.0, zorder=2)
    ax.text(zero_nodes[-1] + 0.012, mean[-1], '0', fontsize=7, color='#222',
            ha='left', va='center', clip_on=False)
    for name, vals in zip(z_names, sds):
        ax.plot(z_nodes, vals, color='#151515', lw=1.0, zorder=2)
        lx, ly = z_nodes[-1] + 0.025, vals[-1]
        if ly > ylim[1]:
            # curve leaves the top of the frame: label sits where it exits
            lx = np.interp(ylim[1], vals, z_nodes) + 0.02
            ly = ylim[1] - 0.35 * ystep / 5
        ax.text(lx, ly, name, fontsize=7, color='#222', ha='left', va='center', clip_on=False)

    ax.set_xlim(*xlim)
    ax.set_ylim(*ylim)
    ax.set_xticks(bsa_ticks)
    ax.set_xticklabels([f'{t:.2f}'.lstrip('0') for t in bsa_ticks])
    yt = np.arange(np.ceil(ylim[0] / ystep) * ystep, ylim[1], ystep)
    ax.set_yticks(yt)
    ax.set_yticklabels([f'{t:.2f}' for t in yt])
    ax.tick_params(direction='out', length=3, width=0.8, color=AXIS_COL,
                   labelsize=5.5, labelcolor=TICK_COL, pad=2)
    ax.set_xlabel('BSA(m2)', fontsize=7, color=TICK_COL, labelpad=6)
    ax.set_ylabel(ylabel, fontsize=7, color=TICK_COL, labelpad=ylab_pad)
    return ax


draw_panel((70, 12, 453, 313), '#d2dde4', rvd1_pts, rvd1_mean, rvd1_sd,
           (0.55, 1.646), (18.6, 46.3), 5, 'RVD1(mm)', 9)
draw_panel((533, 10, 892, 313), '#dce4e9', rvd2_pts, rvd2_mean, rvd2_sd,
           (0.538, 1.646), (13.6, 41.4), 5, 'RVD2(mm)', 6)
draw_panel((969, 13, 1312, 313), '#c9d6de', rvd3_pts, rvd3_mean, rvd3_sd,
           (0.545, 1.655), (16.7, 83.3), 10, 'RVD3(mm)', 6)
draw_panel((195, 386, 547, 682), '#cbd7df', tapse_pts, tapse_mean, tapse_sd,
           (0.534, 1.647), (8.96, 31.1), 5, 'TAPSE(mm)', 6)
draw_panel((676, 383, 1005, 683), '#e1e8ec', s_pts, s_mean, s_sd,
           (0.539, 1.654), (8.9, 31.1), 5, "S'(cm/s)", 4)

# ------------------------------------------------------------------
# panel captions (serif, bold)
# ------------------------------------------------------------------
CAP = dict(fontsize=18, fontweight='bold', family=['Liberation Serif', 'DejaVu Serif'],
           color='#1c1c1c', va='baseline', ha='left')
fig.text(45 / W, 1 - 364 / H, 'A. RVD1 vs BSA', **CAP)
fig.text(528 / W, 1 - 364 / H, 'B. RVD2 vs BSA', **CAP)
fig.text(987 / W, 1 - 370 / H, 'C. RVD3 vs BSA', **CAP)
fig.text(185 / W, 1 - 745 / H, 'D. TAPSE vs BSA', **CAP)

# E caption has an italic S'
renderer = fig.canvas.get_renderer()
t1 = fig.text(687 / W, 1 - 745 / H, 'E. ', **CAP)
x_next = t1.get_window_extent(renderer).x1 / W
t2 = fig.text(x_next, 1 - 745 / H, 'S\u2032', style='italic', **CAP)
x_next = t2.get_window_extent(renderer).x1 / W
fig.text(x_next, 1 - 745 / H, ' vs BSA', **CAP)

fig.savefig('out.png', dpi=100, facecolor=fig.get_facecolor())
